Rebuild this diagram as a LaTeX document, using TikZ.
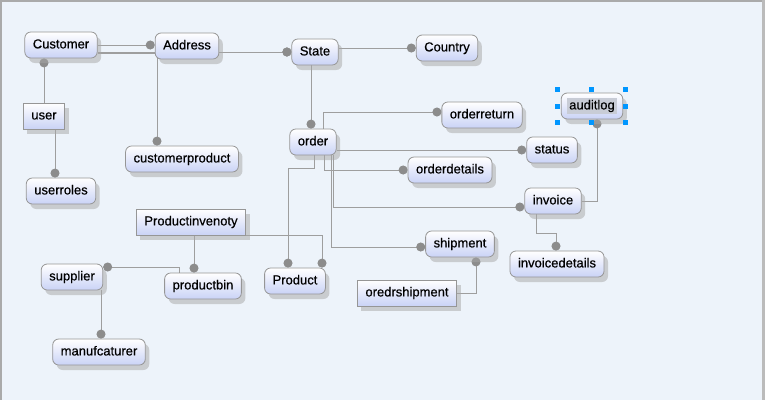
\documentclass[tikz,border=0pt]{standalone}
\usepackage{fontspec}
\setmainfont{Liberation Sans}
\newfontfamily\tblfont[FakeBold=0.6]{Liberation Sans}
\usetikzlibrary{shadows,arrows.meta}

\definecolor{bgc}{RGB}{237,243,250}
\definecolor{framec}{RGB}{170,170,170}
\definecolor{linec}{RGB}{158,158,158}
\definecolor{dotc}{RGB}{140,140,140}
\definecolor{boxc}{RGB}{150,150,150}
\definecolor{boxlow}{RGB}{202,211,246}
\definecolor{selc}{RGB}{200,204,214}
\definecolor{handlec}{RGB}{0,150,255}

\pgfdeclarelayer{bg}
\pgfdeclarelayer{edges}
\pgfsetlayers{bg,edges,main}
\setlength{\fboxsep}{2pt}

\begin{document}
\begin{tikzpicture}[x=1pt,y=-1pt,
  every node/.style={font=\tblfont\fontsize{13}{15}\selectfont},
  tbl/.style={draw=boxc, line width=0.8pt, rounded corners=6pt,
    top color=white, bottom color=boxlow, minimum height=26pt,
    inner xsep=8pt, text height=9.5pt, text depth=2.7pt,
    drop shadow={shadow xshift=4pt, shadow yshift=-5pt, fill=black!35}},
  plain/.style={tbl, sharp corners},
  link/.style={draw=linec, line width=1pt, -{Circle[length=9pt,color=dotc]}}]
  \useasboundingbox (0,0) rectangle (765,400);

  % canvas
  \begin{pgfonlayer}{bg}
    \fill[bgc] (0,0) rectangle (765,400);
    \fill[framec] (0,0) rectangle (765,2);
    \fill[framec] (0,0) rectangle (2,400);
    \fill[framec!80] (762,0) rectangle (765,400);
  \end{pgfonlayer}

  % tables
  \node[tbl] (cust) at (61,45) {Customer};
  \node[tbl] (addr) at (187,46) {Address};
  \node[tbl] (state) at (315,52) {State};
  \node[tbl] (country) at (447,48) {Country};
  \node[plain] (user) at (44,116) {user};
  \node[tbl] (userroles) at (61,191) {userroles};
  \node[tbl] (custprod) at (182,159) {customerproduct};
  \node[plain] (prodinv) at (191,222) {Productinvenoty};
  \node[tbl] (prodbin) at (203,286) {productbin};
  \node[tbl] (product) at (295,281) {Product};
  \node[tbl] (supplier) at (72,277) {supplier};
  \node[tbl] (manuf) at (99,352) {manufcaturer};
  \node[tbl] (order) at (313,142) {order};
  \node[tbl] (ordret) at (482,115) {orderreturn};
  \node[tbl] (orddet) at (450,170) {orderdetails};
  \node[tbl] (shipment) at (460,244) {shipment};
  \node[plain] (ordship) at (407,293) {oredrshipment};
  \node[tbl] (status) at (552,150) {status};
  \node[tbl] (invoice) at (553,201) {invoice};
  \node[tbl, inner xsep=6pt] (audit) at (592,106) {\colorbox{selc}{auditlog}};
  \node[tbl] (invdet) at (557,264) {invoicedetails};

  % selection handles
  \foreach \hx/\hy in {557/89,591/89,625/89,557/106,625/106,557/122,591/122,625/122}
    \fill[handlec] (\hx-2.5,\hy-2.5) rectangle (\hx+2.5,\hy+2.5);

  % links
  \begin{pgfonlayer}{edges}
    \draw[link] (cust.east) -- (cust.east -| addr.west);
    \draw[link] (cust.east |- state.west) -- (state.west);
    \draw[link] ([yshift=-8pt]cust.east) -| ([xshift=-25pt]custprod.north);
    \draw[link] (addr.east |- state.west) -- (state.west);
    \draw[link] (user.north) -- (user.north |- cust.south);
    \draw[link] ([xshift=11pt]user.south) -- ([xshift=11pt]user.south |- userroles.north);
    \draw[link] (state.east |- country.west) -- (country.west);
    \draw[link] ([xshift=-4pt]state.south) -- ([xshift=-4pt]state.south |- order.north);
    \draw[link] ([xshift=10pt]order.north) |- ([yshift=3pt]ordret.west);
    \draw[link] (order.east |- status.west) -- (status.west);
    \draw[link] ([xshift=11pt]order.south) |- (orddet.west);
    \draw[link] ([xshift=20pt]order.south) |- ([yshift=-6pt]invoice.west);
    \draw[link] ([xshift=18pt]order.south) |- ([yshift=-3pt]shipment.west);
    \draw[link] ([xshift=1pt]order.south) -- ++(0,13) -| ([xshift=-7pt]product.north);
    \draw[link] (prodinv.south east) -| ([xshift=27pt]product.north);
    \draw[link] ([xshift=3pt]prodinv.south) -- ([xshift=3pt]prodinv.south |- prodbin.north);
    \draw[link] ([xshift=-24pt]prodbin.north) |- ([yshift=10pt]supplier.east);
    \draw[link] ([xshift=29pt]supplier.south) -- ([xshift=29pt]supplier.south |- manuf.north);
    \draw[link] (ordship.east) -| ([xshift=16pt]shipment.south);
    \draw[link] (invoice.east) -| ([xshift=5pt]audit.south);
    \draw[link] ([xshift=-17pt]invoice.south) -- ++(0,19) -| ([xshift=-1pt]invdet.north);
  \end{pgfonlayer}
\end{tikzpicture}
\end{document}
